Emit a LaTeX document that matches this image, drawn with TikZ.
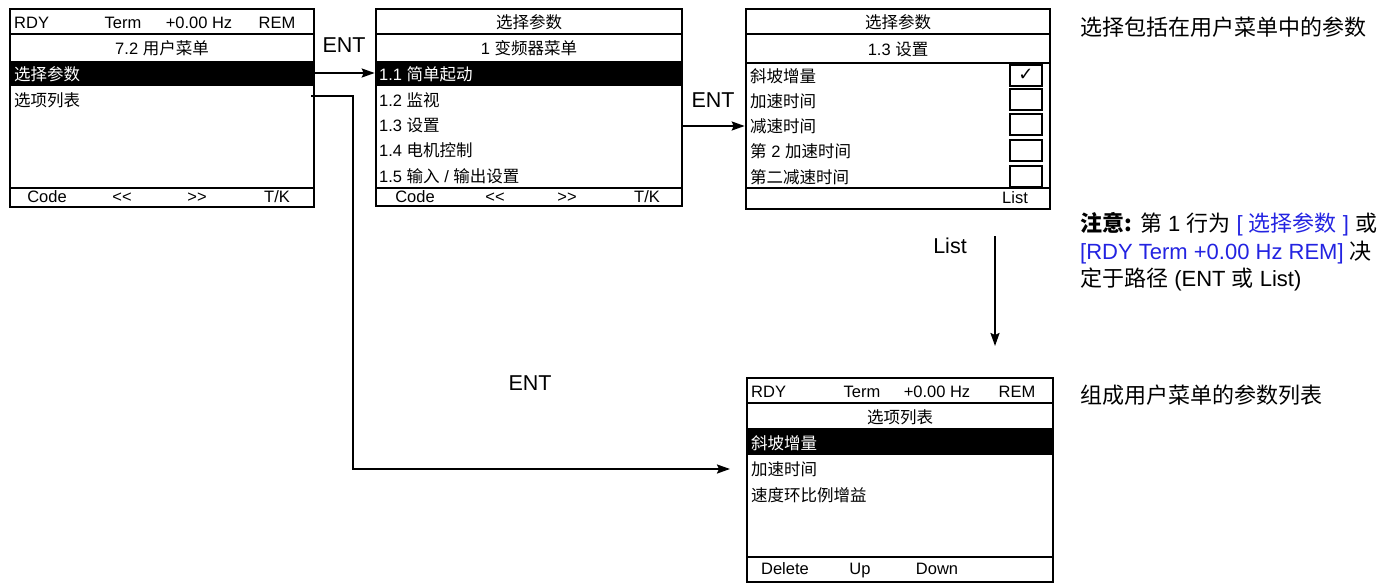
\documentclass[tikz,border=0pt]{standalone}
\usepackage{fontspec}
\setmainfont{Liberation Sans}
\newfontfamily\cjk{Noto Sans CJK SC}
\newfontfamily\symf{DejaVu Sans}
\usetikzlibrary{arrows.meta}
\newcommand\zh[1]{{\cjk #1}}
\definecolor{blu}{RGB}{35,35,225}
\tikzset{
 scr/.style={draw, line width=2.6pt, inner sep=0pt},
 rowline/.style={line width=2.2pt},
 st/.style={font=\fontsize{16.5}{19}\selectfont, inner sep=0pt, text height=13pt, text depth=1pt},
 sw/.style={st, anchor=west},
 lbl/.style={font=\fontsize{21.5}{25}\selectfont, inner sep=0pt},
 side/.style={font=\fontsize{22}{27}\selectfont, inner sep=0pt, anchor=west, text height=17pt, text depth=1pt},
 arr/.style={line width=2pt, -{Stealth[length=13pt,width=9pt,inset=2pt]}},
 cbox/.style={draw, line width=2pt, minimum width=32pt, minimum height=21pt, inner sep=0pt},
}
\begin{document}
\begin{tikzpicture}[x=1pt,y=-1pt]
\useasboundingbox (0,0) rectangle (1392,584);
% highlights
\fill (10,62) rectangle (314,86);
\fill (376,62) rectangle (682,86);
\fill (747,429) rectangle (1053,455);
% screen boxes
\node[scr, minimum width=304pt, minimum height=198pt] (s1) at (162,108) {};
\node[scr, minimum width=306pt, minimum height=197pt] (s2) at (529,107.5) {};
\node[scr, minimum width=304pt, minimum height=200pt] (s3) at (898,109) {};
\node[scr, minimum width=306pt, minimum height=204pt] (s4) at (900,480) {};
% row lines
\draw[rowline] (10,34) -- (314,34) (10,62) -- (314,62) (10,188) -- (314,188);
\draw[rowline] (376,34) -- (682,34) (376,62) -- (682,62) (376,188) -- (682,188);
\draw[rowline] (746,34) -- (1050,34) (746,63) -- (1050,63) (746,188) -- (1050,188);
\draw[rowline] (747,403) -- (1053,403) (747,429) -- (1053,429) (747,557) -- (1053,557);
% screen 1
\node[sw] (s1h1) at (14,22) {RDY};
\node[st] (s1h2) at (123,22) {Term};
\node[st] (s1h3) at (199,22) {+0.00 Hz};
\node[st] (s1h4) at (277,22) {REM};
\node[st] (s1t) at (162,48.5) {7.2 \zh{用户菜单}};
\node[sw, text=white] (s1i1) at (14,74.5) {\zh{选择参数}};
\node[sw] (s1i2) at (14,100) {\zh{选项列表}};
\node[st] (s1f1) at (47,196.5) {Code};
\node[st] (s1f2) at (122,196.5) {{<}{<}};
\node[st] (s1f3) at (197,196.5) {{>}{>}};
\node[st] (s1f4) at (277,196.5) {T/K};
% screen 2
\node[st] (s2h) at (529,22) {\zh{选择参数}};
\node[st] (s2t) at (529,48.5) {1 \zh{变频器菜单}};
\node[sw, text=white] (s2i1) at (379,74.5) {1.1 \zh{简单起动}};
\node[sw] (s2i2) at (379,100) {1.2 \zh{监视}};
\node[sw] (s2i3) at (379,125) {1.3 \zh{设置}};
\node[sw] (s2i4) at (379,150) {1.4 \zh{电机控制}};
\node[sw] (s2i5) at (379,176) {1.5 \zh{输入} / \zh{输出设置}};
\node[st] (s2f1) at (415,196.5) {Code};
\node[st] (s2f2) at (495,196.5) {{<}{<}};
\node[st] (s2f3) at (567,196.5) {{>}{>}};
\node[st] (s2f4) at (647,196.5) {T/K};
% screen 3
\node[st] (s3h) at (898,22) {\zh{选择参数}};
\node[st] (s3t) at (898,49) {1.3 \zh{设置}};
\node[sw] (s3i1) at (750,76) {\zh{斜坡增量}};
\node[sw] (s3i2) at (750,101) {\zh{加速时间}};
\node[sw] (s3i3) at (750,126) {\zh{减速时间}};
\node[sw] (s3i4) at (750,151) {\zh{第} 2 \zh{加速时间}};
\node[sw] (s3i5) at (750,177) {\zh{第二减速时间}};
\node[cbox, font=\symf\fontsize{18}{18}\selectfont] (cb1) at (1026,75) {✓};
\node[cbox] (cb2) at (1026,99.5) {};
\node[cbox] (cb3) at (1026,124.5) {};
\node[cbox] (cb4) at (1026,150.5) {};
\node[cbox] (cb5) at (1026,176) {};
\node[st] (s3f) at (1015,197.5) {List};
% screen 4
\node[sw] (s4h1) at (751,391) {RDY};
\node[st] (s4h2) at (862,391) {Term};
\node[st] (s4h3) at (937,391) {+0.00 Hz};
\node[st] (s4h4) at (1017,391) {REM};
\node[st] (s4t) at (900,417) {\zh{选项列表}};
\node[sw, text=white] (s4i1) at (751,443) {\zh{斜坡增量}};
\node[sw] (s4i2) at (751,469) {\zh{加速时间}};
\node[sw] (s4i3) at (751,495) {\zh{速度环比例增益}};
\node[st] (s4f1) at (785,568) {Delete};
\node[st] (s4f2) at (860,568) {Up};
\node[st] (s4f3) at (937,568) {Down};
% labels
\node[lbl] (ent1) at (344,45) {ENT};
\node[lbl] (ent2) at (713,100) {ENT};
\node[lbl] (ent3) at (530,383) {ENT};
\node[lbl] (lst) at (950,246) {List};
% connectors
\draw[arr] (s1.east |- 0,73) -- (s2.west |- 0,73);
\draw[arr] (s2.east |- 0,126) -- (s3.west |- 0,126);
\coordinate (a3s) at (311,96);
\coordinate (a3c) at (353,469);
\coordinate (a3e) at (730,469);
\draw[arr] (a3s) -| (a3c) -- (a3e);
\coordinate (l1) at (995,236);
\coordinate (l2) at (995,346);
\draw[arr] (l1) -- (l2);
% side texts
\node[side] (r1) at (1080,27) {\zh{选择包括在用户菜单中的参数}};
\node[side] (n1) at (1080,223) {{\cjk\bfseries 注意:} \zh{第} 1 \zh{行为} \textcolor{blu}{[ \zh{选择参数} ]} \zh{或}};
\node[side] (n2) at (1080,251) {\textcolor{blu}{[RDY Term +0.00 Hz REM]} \zh{决}};
\node[side] (n3) at (1080,278) {\zh{定于路径} (ENT \zh{或}  List)};
\node[side] (r2) at (1080,395) {\zh{组成用户菜单的参数列表}};
\end{tikzpicture}
\end{document}
